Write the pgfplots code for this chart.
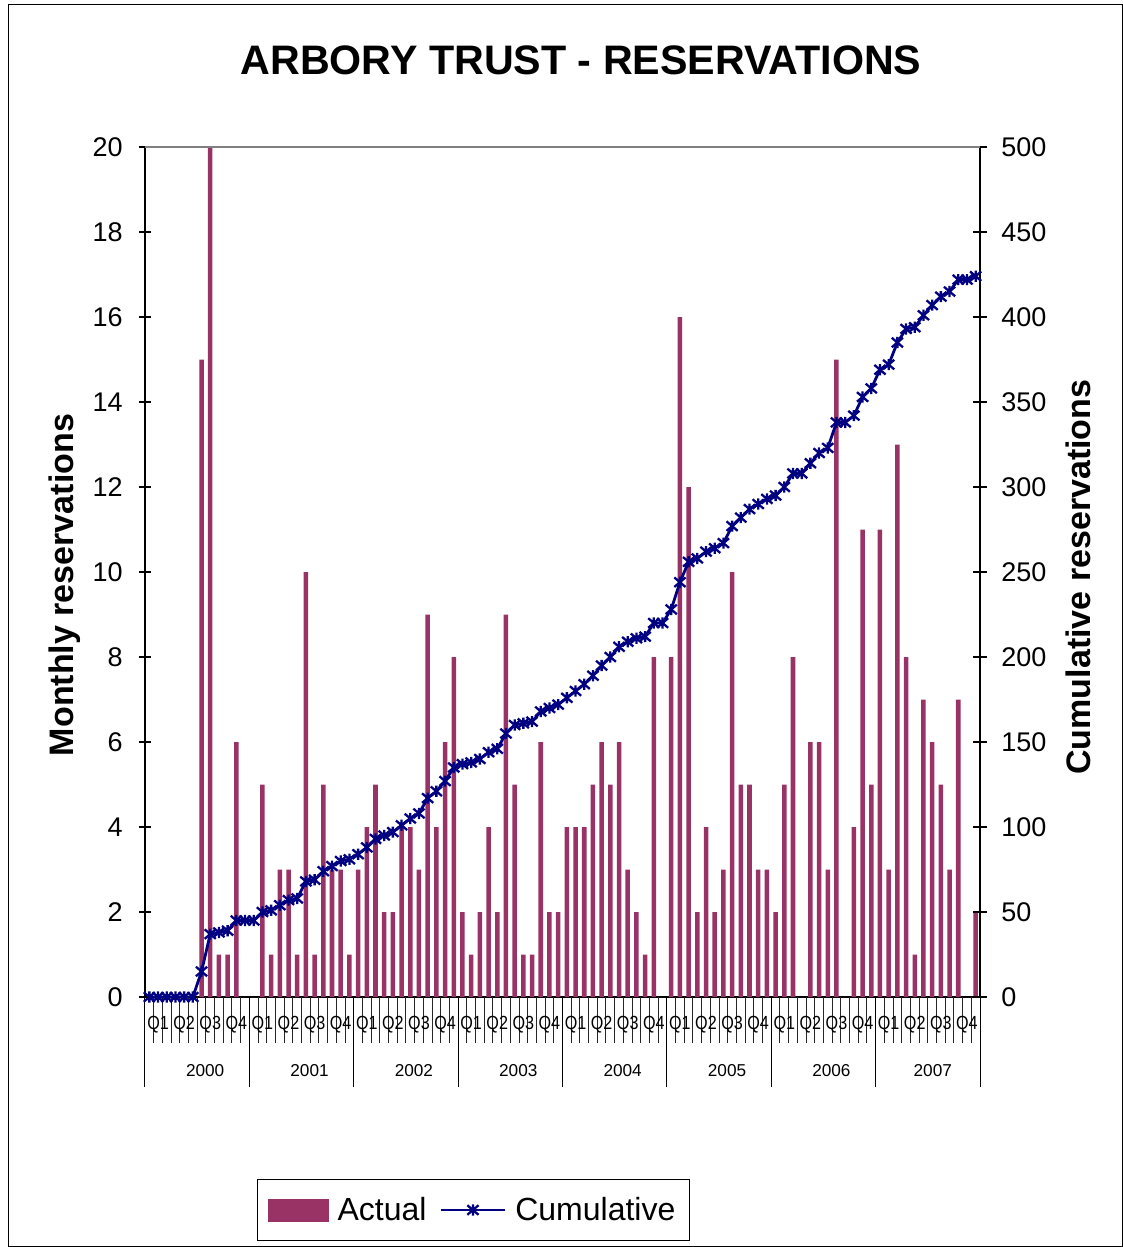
\documentclass[border=0pt]{standalone}
\usepackage{fontspec}
\setmainfont{Liberation Sans}
\usepackage{pgfplots}
\pgfplotsset{compat=1.18}
\usepackage{pgfplotstable}
\definecolor{plum}{RGB}{153,51,102}
\definecolor{navyline}{RGB}{0,0,128}
\pgfdeclareplotmark{xstar}{%
  \pgfpathmoveto{\pgfqpoint{0pt}{\pgfplotmarksize}}%
  \pgfpathlineto{\pgfqpoint{0pt}{-\pgfplotmarksize}}%
  \pgfpathmoveto{\pgfqpoint{-\pgfplotmarksize}{-0.85\pgfplotmarksize}}%
  \pgfpathlineto{\pgfqpoint{\pgfplotmarksize}{0.85\pgfplotmarksize}}%
  \pgfpathmoveto{\pgfqpoint{-\pgfplotmarksize}{0.85\pgfplotmarksize}}%
  \pgfpathlineto{\pgfqpoint{\pgfplotmarksize}{-0.85\pgfplotmarksize}}%
  \pgfusepathqstroke}
\pgfplotsset{
  cumlegend/.style={legend image code/.code={\draw[mark repeat=2,mark phase=2,##1] plot coordinates {(0pt,0pt) (16pt,0pt) (32pt,0pt)};}},
  barlegend/.style={legend image code/.code={\fill[plum] (0pt,-5.5pt) rectangle (30pt,5.5pt);}},
}
\newcommand{\ql}[1]{\scalebox{0.85}[1]{#1}}

\pgfplotstableread{
m actual cum
1 0 0
2 0 0
3 0 0
4 0 0
5 0 0
6 0 0
7 15 15
8 22 37
9 1 38
10 1 39
11 6 45
12 0 45
13 0 45
14 5 50
15 1 51
16 3 54
17 3 57
18 1 58
19 10 68
20 1 69
21 5 74
22 3 77
23 3 80
24 1 81
25 3 84
26 4 88
27 5 93
28 2 95
29 2 97
30 4 101
31 4 105
32 3 108
33 9 117
34 4 121
35 6 127
36 8 135
37 2 137
38 1 138
39 2 140
40 4 144
41 2 146
42 9 155
43 5 160
44 1 161
45 1 162
46 6 168
47 2 170
48 2 172
49 4 176
50 4 180
51 4 184
52 5 189
53 6 195
54 5 200
55 6 206
56 3 209
57 2 211
58 1 212
59 8 220
60 0 220
61 8 228
62 16 244
63 12 256
64 2 258
65 4 262
66 2 264
67 3 267
68 10 277
69 5 282
70 5 287
71 3 290
72 3 293
73 2 295
74 5 300
75 8 308
76 0 308
77 6 314
78 6 320
79 3 323
80 15 338
81 0 338
82 4 342
83 11 353
84 5 358
85 11 369
86 3 372
87 13 385
88 8 393
89 1 394
90 7 401
91 6 407
92 5 412
93 3 415
94 7 422
95 0 422
96 2 424
}\data

\begin{document}
\begin{tikzpicture}
\useasboundingbox (0,0) rectangle (561.5pt,-623.5pt);
\draw[line width=0.5pt] (4pt,-2.5pt) rectangle (561pt,-623pt);
\node[font=\fontsize{20.6}{24}\selectfont\bfseries] at (290.5pt,-30pt) {ARBORY TRUST - RESERVATIONS};

\begin{axis}[
  at={(72.5pt,-498.5pt)}, anchor=south west,
  scale only axis, width=417.5pt, height=425pt,
  xmin=0.5, xmax=96.5, ymin=0, ymax=20,
  axis x line*=bottom, axis y line*=left,
  axis line style={line width=0.6pt, -},
  xtick=\empty,
  ytick={0,2,...,20},
  tick align=center, major tick length=6pt,
  tick style={black, line width=0.6pt},
  /pgf/number format/assume math mode=true,
  yticklabel style={font=\fontsize{13.5}{16}\selectfont, inner sep=0pt, xshift=-8pt},
  clip mode=individual,
  ylabel={Monthly reservations},
  ylabel style={font=\fontsize{17}{20}\selectfont\bfseries, at={(axis description cs:-0.0958,0.4847)}, anchor=center},
]
\addplot[ybar, bar width=0.52, fill=plum, draw=none] table[x=m,y=actual]{\data};
\pgfplotsinvokeforeach{0.5,1.5,...,96.5}{\draw[black!85, line width=0.5pt] (axis cs:#1,0) -- ++(0pt,-23pt);}
\pgfplotsinvokeforeach{0.5,12.5,...,96.5}{\draw[black, line width=0.5pt] (axis cs:#1,0) -- ++(0pt,-45pt);}
\pgfplotsinvokeforeach{2,14,...,86}{\node[font=\fontsize{9.5}{11}\selectfont, inner sep=0pt] at (axis cs:#1,0) [yshift=-14pt] {\ql{Q1}};}
\pgfplotsinvokeforeach{5,17,...,89}{\node[font=\fontsize{9.5}{11}\selectfont, inner sep=0pt] at (axis cs:#1,0) [yshift=-14pt] {\ql{Q2}};}
\pgfplotsinvokeforeach{8,20,...,92}{\node[font=\fontsize{9.5}{11}\selectfont, inner sep=0pt] at (axis cs:#1,0) [yshift=-14pt] {\ql{Q3}};}
\pgfplotsinvokeforeach{11,23,...,95}{\node[font=\fontsize{9.5}{11}\selectfont, inner sep=0pt] at (axis cs:#1,0) [yshift=-14pt] {\ql{Q4}};}
\node[font=\fontsize{8.6}{10}\selectfont] at (axis cs:6.5,0) [xshift=4pt, yshift=-37pt] {2000};
\node[font=\fontsize{8.6}{10}\selectfont] at (axis cs:18.5,0) [xshift=4pt, yshift=-37pt] {2001};
\node[font=\fontsize{8.6}{10}\selectfont] at (axis cs:30.5,0) [xshift=4pt, yshift=-37pt] {2002};
\node[font=\fontsize{8.6}{10}\selectfont] at (axis cs:42.5,0) [xshift=4pt, yshift=-37pt] {2003};
\node[font=\fontsize{8.6}{10}\selectfont] at (axis cs:54.5,0) [xshift=4pt, yshift=-37pt] {2004};
\node[font=\fontsize{8.6}{10}\selectfont] at (axis cs:66.5,0) [xshift=4pt, yshift=-37pt] {2005};
\node[font=\fontsize{8.6}{10}\selectfont] at (axis cs:78.5,0) [xshift=4pt, yshift=-37pt] {2006};
\node[font=\fontsize{8.6}{10}\selectfont] at (axis cs:90.5,0) [xshift=2.5pt, yshift=-37pt] {2007};
\end{axis}

\begin{axis}[
  at={(72.5pt,-498.5pt)}, anchor=south west,
  scale only axis, width=417.5pt, height=425pt,
  xmin=0.5, xmax=96.5, ymin=0, ymax=500,
  axis x line=none, axis y line*=right,
  axis line style={line width=0.6pt, -},
  ytick={0,50,...,500},
  tick align=center, major tick length=7pt,
  tick style={black, line width=0.6pt},
  /pgf/number format/assume math mode=true,
  yticklabel style={font=\fontsize{13.5}{16}\selectfont, inner sep=0pt, xshift=7pt},
  clip=false,
  ylabel={Cumulative reservations},
  ylabel style={font=\fontsize{17}{20}\selectfont\bfseries, at={(axis description cs:1.1174,0.494)}, anchor=center, rotate=0},
  legend style={at={(0.3934,-0.2506)}, anchor=center, draw=black, line width=0.5pt,
    font=\fontsize{16}{19}\selectfont, inner xsep=5pt, inner ysep=6.5pt,
    /tikz/every odd column/.append style={column sep=2.5pt},
    /tikz/every even column/.append style={column sep=4.5pt}},
  legend columns=2,
  legend cell align=left,
]
\draw[gray, line width=0.6pt] (rel axis cs:0,1) -- (rel axis cs:1,1);
\addlegendimage{barlegend}
\addlegendentry{Actual}
\addplot[navyline, line width=1.4pt, mark=xstar, mark size=2.8pt,
  mark options={line width=1.15pt}, cumlegend]
  table[x=m,y=cum]{\data};
\addlegendentry{Cumulative}
\end{axis}
\end{tikzpicture}
\end{document}
